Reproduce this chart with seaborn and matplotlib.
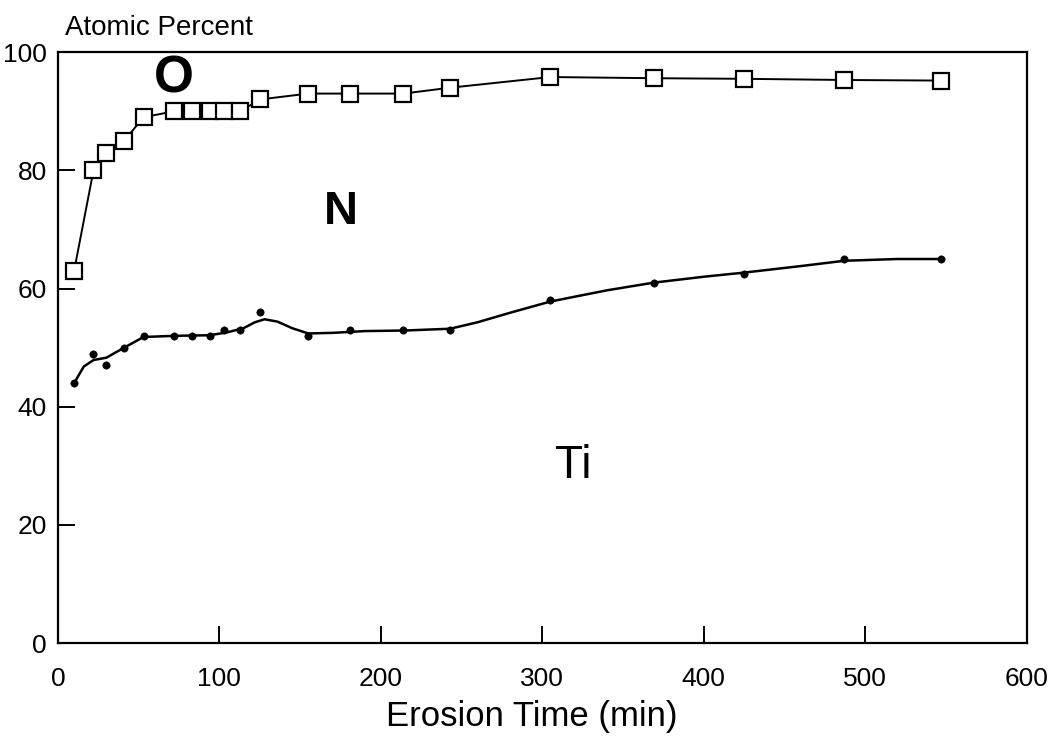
import numpy as np
import pandas as pd
import matplotlib
matplotlib.use("Agg")
import matplotlib.pyplot as plt
import seaborn as sns

sns.set_theme(style="ticks")
plt.rcParams["font.family"] = ["Liberation Sans", "DejaVu Sans"]
plt.rcParams["text.color"] = "black"

# erosion time (min) of each measurement
time_min = [10, 22, 30, 41, 53, 72, 83, 94, 103, 113, 125, 155, 181, 214, 243, 305, 369, 425, 487, 547]
# O + N + Ti upper boundary (open squares)
o_top = [63, 80, 83, 85, 89, 90, 90, 90, 90, 90, 92, 93, 93, 93, 94, 95.8, 95.6, 95.5, 95.3, 95.2]
# N / Ti boundary (small dots)
ti_top = [44, 49, 47, 50, 52, 52, 52, 52, 53, 53, 56, 52, 53, 53, 53, 58, 61, 62.5, 65, 65]

# hand-drawn smooth curve through the Ti dots
ti_curve_x = [10, 16, 22, 30, 41, 53, 72, 94, 105, 115, 122, 128, 136, 145, 155, 170, 190, 215, 243, 260, 280, 305, 340, 369, 400, 425, 460, 487, 520, 547]
ti_curve_y = [44, 46.8, 47.9, 48.3, 50, 51.8, 52, 52.1, 52.6, 53.3, 54.3, 54.8, 54.4, 53.3, 52.4, 52.5, 52.8, 52.9, 53.2, 54.3, 55.9, 57.8, 59.7, 61, 62, 62.7, 63.8, 64.7, 65, 65]

o_df = pd.DataFrame({"time": time_min, "pct": o_top})
ti_df = pd.DataFrame({"time": time_min, "pct": ti_top})
curve_df = pd.DataFrame({"time": ti_curve_x, "pct": ti_curve_y})

fig = plt.figure(figsize=(10.54, 7.46), dpi=100)
ax = fig.add_axes([0.055, 0.138, 0.919, 0.792])

sns.lineplot(data=o_df, x="time", y="pct", color="black", lw=1.4, ax=ax,
             marker="s", markersize=12, markerfacecolor="white",
             markeredgecolor="black", markeredgewidth=1.6, sort=False)
sns.lineplot(data=curve_df, x="time", y="pct", color="black", lw=1.8, ax=ax, sort=False)
sns.scatterplot(data=ti_df, x="time", y="pct", color="black", s=28, marker="o",
                edgecolor="black", ax=ax, zorder=3)

ax.set_xlim(0, 600)
ax.set_ylim(0, 100)
ax.set_xticks(range(0, 601, 100))
ax.set_yticks(range(0, 101, 20))
ax.tick_params(direction="in", length=12, width=1.4, labelsize=19, colors="black")
ax.tick_params(axis="x", pad=17)
ax.tick_params(axis="y", pad=8)
for s in ax.spines.values():
    s.set_linewidth(1.6)
    s.set_color("black")

ax.set_xlabel("Erosion Time (min)", fontsize=25, color="black")
ax.xaxis.set_label_coords((532 - 58) / 969, -0.097)
ax.set_ylabel("")
fig.text(0.062, 0.962, "Atomic Percent", fontsize=20, ha="left", va="center", color="black")

ax.text(72, 95.5, "O", fontsize=37, fontweight="bold", ha="center", va="center", color="black")
ax.text(175, 73, "N", fontsize=34, fontweight="bold", ha="center", va="center", color="black")
ax.text(319, 30, "Ti", fontsize=33, ha="center", va="center", color="black")

fig.savefig("out.png", dpi=100)
